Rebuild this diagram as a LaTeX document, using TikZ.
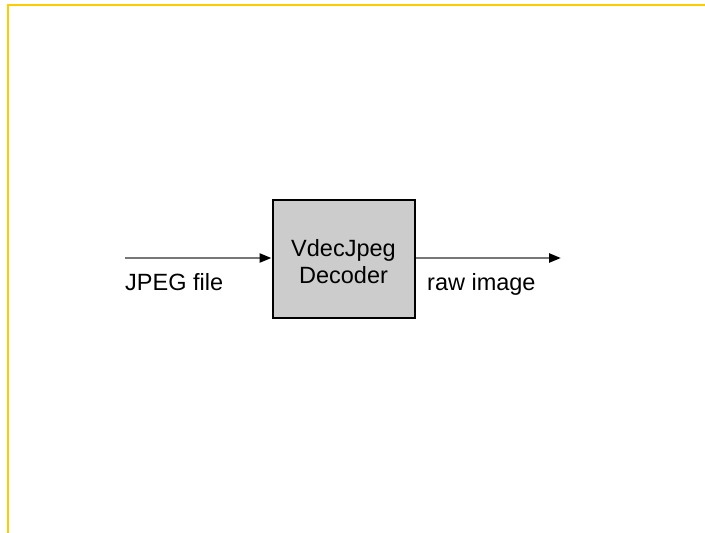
\documentclass[tikz,border=0pt]{standalone}
\usepackage{fontspec}
\setmainfont{Liberation Sans}
\usetikzlibrary{arrows.meta}
\definecolor{frameyellow}{HTML}{FFCC00}
\definecolor{boxgray}{HTML}{CCCCCC}
\definecolor{linegray}{HTML}{777777}
\tikzset{
  lbl/.style={font=\fontsize{23.5}{28}\selectfont, inner sep=0pt, anchor=base west},
  decbox/.style={draw=black, line width=2pt, fill=boxgray, minimum width=142pt, minimum height=118pt, inner sep=0pt, align=center, font=\fontsize{23.5}{27.5}\selectfont},
  flow/.style={draw=linegray, line width=2.5pt, -{Triangle[length=12pt,width=9pt,color=black]}},
  frameline/.style={draw=frameyellow, line width=2.5pt}
}
\begin{document}
\begin{tikzpicture}[x=1pt,y=-1pt]
\useasboundingbox (0,0) rectangle (705,533);
\draw[frameline] (8,533) -- (8,5) -- (705,5);
\node[decbox] (dec) at (343.5,258.5) {\rule{0pt}{23.5pt}VdecJpeg\\Decoder};
\coordinate (in) at (125,258);
\coordinate (out) at (561,258);
\draw[flow] (in) -- (dec.west |- in);
\draw[flow] (dec.east |- out) -- (out);
\node[lbl] (jpeg) at (125,290) {JPEG file};
\node[lbl] (raw) at (427,290) {raw image};
\end{tikzpicture}
\end{document}
